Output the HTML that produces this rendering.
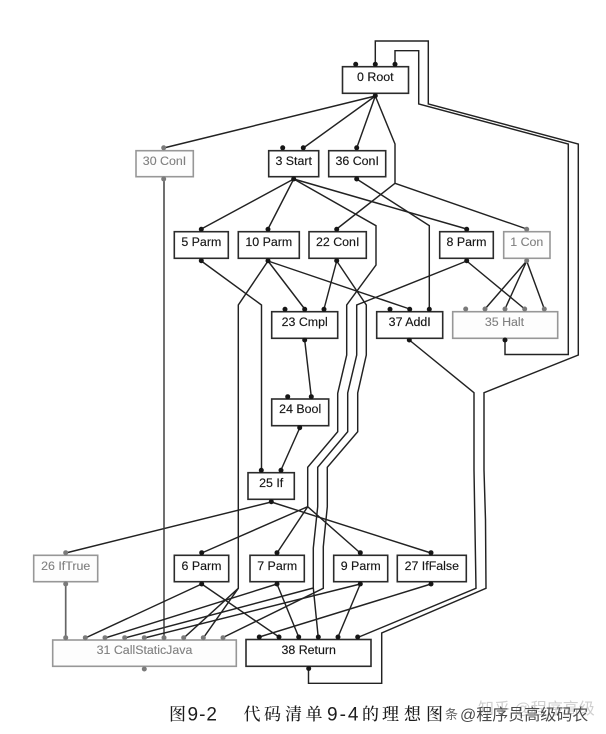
<!DOCTYPE html>
<html lang="zh"><head><meta charset="utf-8"><title>图9-2</title>
<style>
html,body{margin:0;padding:0;background:#fff;width:606px;height:734px;overflow:hidden}
svg{display:block;filter:blur(.3px)}
.e{fill:none;stroke:#222;stroke-width:1.45;stroke-linejoin:miter}
.b{fill:#fff;stroke:#2b2b2b;stroke-width:1.6}
.g{fill:#fdfdfd;stroke:#979797;stroke-width:1.6}
.t{font:12.4px "Liberation Sans",sans-serif;fill:#161616;stroke:#161616;stroke-width:.15;text-anchor:middle}
.u{font:12.4px "Liberation Sans",sans-serif;fill:#808080;stroke:#808080;stroke-width:.12;text-anchor:middle}
.d circle{r:2.5px;fill:#161616}
.h circle{r:2.5px;fill:#7a7a7a}
.c{font-family:"Noto Serif CJK SC","Liberation Serif",serif;font-size:17px;font-weight:500;fill:#1c1c1c}
.n{font-family:"Liberation Sans",sans-serif;font-size:19px;fill:#1c1c1c}
.w{font-family:"Liberation Sans","Noto Sans CJK SC",sans-serif}
</style></head><body>
<svg xmlns="http://www.w3.org/2000/svg" width="606" height="734" viewBox="0 0 606 734">
<!-- connectors -->
<path class="e" d="M375.3 64V41H428.3V104L578.3 144V355L484 392.7V470L485.5 520L486 588.3L381.7 633V683.3H308.5V668"/>
<path class="e" d="M395 64V50.7H418.7V104L568.3 144V354.5H505V340"/>
<path class="e" d="M375.3 96L163.7 148M375.3 96L303.3 148M375.3 96L356.7 148M375.3 96L395 144V183.3L336.7 229M395 183.3L526.7 229"/>
<path class="e" d="M293.7 179L201.3 229M293.7 179L268 229M293.7 179L466.7 229"/>
<path class="e" d="M293.7 179L376 225.7V265L346.7 305V355L337.7 393.3V431.7L307.7 467.3V506.7L201.7 553M307.7 506.7L277 553M307.7 506.7L360.3 553"/>
<path class="e" d="M356.7 179L429.3 225.7V309"/>
<path class="e" d="M336.7 261L324 309M336.7 261L366.3 305V355L357.7 393V431.7L327.3 467.3V506.7L323.3 546.7V588.3L223 637.5"/>
<path class="e" d="M466.7 261L356.7 305V355L347.7 393V431.7L317.7 467.3V506.7L313.3 548V588L318.3 638M313.3 588L124.7 638"/>
<path class="e" d="M466.7 261L524.7 309M526.7 261L485 309M526.7 261L505 309M526.7 261L544.3 309"/>
<path class="e" d="M201.3 261L261.5 305V470"/>
<path class="e" d="M268 261L238.3 305V588.3L183.7 638M238.3 588.3L203.3 638M268 261L304.7 309M268 261L409.7 309"/>
<path class="e" d="M304.7 340L311.3 397M299.7 428L281 470M271.3 502L65.7 553M271.3 502L431 553"/>
<path class="e" style="stroke:#3a3a3a" d="M164 179V638"/>
<path class="e" style="stroke:#666;stroke-width:1.7" d="M65.7 584V638"/>
<path class="e" d="M409.3 340L474 392.7V470L476 588.3L357.7 637.5"/>
<path class="e" d="M201.7 584L85.3 638M201.7 584L279 637M277 584L105 638M277 584L298.7 637M360.3 584L144.3 638M360.3 584L338 637M431 584L259.3 637"/>
<!-- boxes -->
<rect class="b" x="342.5" y="66.7" width="66" height="26.6"/>
<rect class="g" x="136" y="150.7" width="57.3" height="26"/>
<rect class="b" x="268.7" y="150.7" width="50" height="26"/>
<rect class="b" x="328.7" y="150.7" width="57" height="26"/>
<rect class="b" x="174.3" y="231.7" width="54" height="26.6"/>
<rect class="b" x="238.3" y="231.7" width="61" height="26.6"/>
<rect class="b" x="309" y="231.7" width="57.3" height="26.6"/>
<rect class="b" x="439.7" y="231.7" width="53.6" height="26.6"/>
<rect class="g" x="503.7" y="231.7" width="46.3" height="26.6"/>
<rect class="b" x="271.7" y="311.7" width="66" height="26.6"/>
<rect class="b" x="376.7" y="311.7" width="66" height="26.6"/>
<rect class="g" x="452.7" y="311.7" width="105" height="26.6"/>
<rect class="b" x="271.7" y="399" width="57" height="26.7"/>
<rect class="b" x="248" y="472.7" width="46.3" height="26.6"/>
<rect class="g" x="33.7" y="555.3" width="64" height="26.4"/>
<rect class="b" x="174.3" y="555.3" width="54.4" height="26.4"/>
<rect class="b" x="250" y="555.3" width="54.3" height="26.4"/>
<rect class="b" x="333.7" y="555.3" width="54" height="26.4"/>
<rect class="b" x="397.3" y="555.3" width="69" height="26.4"/>
<rect class="g" x="52.7" y="640" width="183.6" height="26.3"/>
<rect class="b" x="246" y="639.5" width="125" height="26.8"/>
<!-- labels -->
<text class="t" x="375.3" y="81.2">0 Root</text>
<text class="u" x="164.5" y="165">30 ConI</text>
<text class="t" x="293.7" y="165">3 Start</text>
<text class="t" x="357.2" y="165">36 ConI</text>
<text class="t" x="201.3" y="246">5 Parm</text>
<text class="t" x="268.8" y="246">10 Parm</text>
<text class="t" x="337.7" y="246">22 ConI</text>
<text class="t" x="466.5" y="246">8 Parm</text>
<text class="u" x="526.8" y="246">1 Con</text>
<text class="t" x="304.7" y="326">23 Cmpl</text>
<text class="t" x="409.7" y="326">37 AddI</text>
<text class="u" x="504.5" y="326">35 Halt</text>
<text class="t" x="300.2" y="413.2">24 Bool</text>
<text class="t" x="271.2" y="487">25 If</text>
<text class="u" x="65.7" y="570">26 IfTrue</text>
<text class="t" x="201.5" y="570">6 Parm</text>
<text class="t" x="277.2" y="570">7 Parm</text>
<text class="t" x="360.7" y="570">9 Parm</text>
<text class="t" x="431.8" y="570">27 IfFalse</text>
<text class="u" x="144.5" y="654">31 CallStaticJava</text>
<text class="t" x="308.7" y="654">38 Return</text>
<!-- ports -->
<g class="d">
<circle cx="355.7" cy="64.3"/><circle cx="375.3" cy="64.3"/><circle cx="395" cy="64.3"/><circle cx="375.3" cy="95.7"/>
<circle cx="282.7" cy="147.8"/><circle cx="303.3" cy="147.8"/><circle cx="293.7" cy="179"/>
<circle cx="356.7" cy="147.8"/><circle cx="356.7" cy="179"/>
<circle cx="201.3" cy="229.3"/><circle cx="201.3" cy="260.7"/>
<circle cx="268" cy="229.3"/><circle cx="268" cy="260.7"/>
<circle cx="336.7" cy="229.3"/><circle cx="336.7" cy="260.7"/>
<circle cx="466.7" cy="229.3"/><circle cx="466.7" cy="260.7"/>
<circle cx="285" cy="309.3"/><circle cx="304.7" cy="309.3"/><circle cx="324" cy="309.3"/><circle cx="304.7" cy="340"/>
<circle cx="390" cy="309.3"/><circle cx="409.7" cy="309.3"/><circle cx="429.3" cy="309.3"/><circle cx="409.3" cy="340"/>
<circle cx="505" cy="340"/>
<circle cx="287.7" cy="396.7"/><circle cx="311.3" cy="396.7"/><circle cx="299.7" cy="427.7"/>
<circle cx="261.3" cy="470.3"/><circle cx="281" cy="470.3"/><circle cx="271.3" cy="501.7"/>
<circle cx="201.7" cy="552.7"/><circle cx="201.7" cy="584"/>
<circle cx="277" cy="552.7"/><circle cx="277" cy="584"/>
<circle cx="360.3" cy="552.7"/><circle cx="360.3" cy="584"/>
<circle cx="431" cy="552.7"/><circle cx="431" cy="584"/>
<circle cx="259.3" cy="637"/><circle cx="279" cy="637"/><circle cx="298.7" cy="637"/><circle cx="318.3" cy="637"/><circle cx="338" cy="637"/><circle cx="357.7" cy="637"/>
<circle cx="308.7" cy="668.5"/>
</g>
<g class="h">
<circle cx="163.7" cy="147.8"/><circle cx="163.7" cy="179"/>
<circle cx="526.7" cy="229.3"/><circle cx="526.7" cy="260.7"/>
<circle cx="465.7" cy="309"/><circle cx="485" cy="309"/><circle cx="505" cy="309"/><circle cx="524.7" cy="309"/><circle cx="544.3" cy="309"/>
<circle cx="65.7" cy="552.7"/><circle cx="65.7" cy="584"/>
<circle cx="65.7" cy="637.7"/><circle cx="85.3" cy="637.7"/><circle cx="105" cy="637.7"/><circle cx="124.7" cy="637.7"/><circle cx="144.3" cy="637.7"/><circle cx="164" cy="637.7"/><circle cx="183.7" cy="637.7"/><circle cx="203.3" cy="637.7"/><circle cx="223" cy="637.7"/><circle cx="144.3" cy="669"/>
</g>
<!-- caption -->
<text class="c" x="169" y="720">图</text>
<text class="n" x="187.5" y="720.5" letter-spacing="1">9-2</text>
<text class="c" y="720" x="243.5 264 285 305.5">代码清单</text>
<text class="n" x="327" y="720.5" letter-spacing="2">9-4</text>
<text class="c" y="720" x="362 382 404 426">的理想图</text>
<text class="w" x="445" y="719" fill="#666" style="font-size:13px">条</text>
<text class="w" x="478" y="714" fill="#cfcfcf" style="font-size:16px">知乎 @程序高级</text>
<text class="w" x="460" y="720" fill="#4a4a4a" style="font-size:16px">@程序员高级码农</text>
</svg>
</body></html>
